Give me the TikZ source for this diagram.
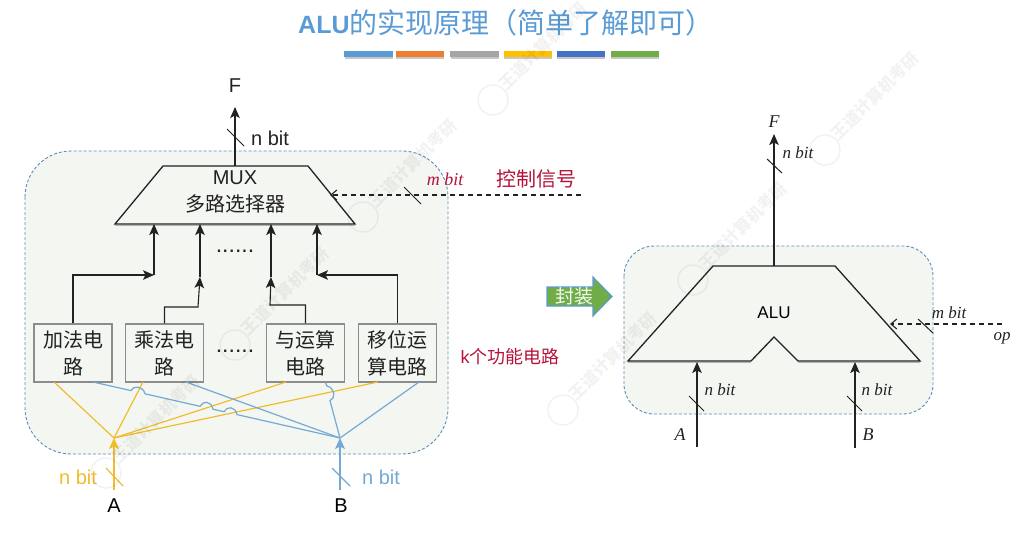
\documentclass[tikz,border=0pt]{standalone}
\usepackage{fontspec}
\setmainfont{Liberation Sans}
\newfontfamily\cjk{Noto Sans CJK SC}
\newfontfamily\tms{Liberation Serif}
\usetikzlibrary{arrows.meta}
\definecolor{pane}{HTML}{F4F7F1}
\definecolor{paneline}{HTML}{5B8DB8}
\definecolor{wirey}{HTML}{F0BC2C}
\definecolor{wireb}{HTML}{74A9D3}
\definecolor{redtxt}{HTML}{B5123A}
\definecolor{ink}{HTML}{222222}
\definecolor{titleblue}{HTML}{5B9BD5}
\definecolor{pkggreen}{HTML}{70AD47}
\tikzset{
  panebox/.style={draw=paneline,fill=pane,densely dashed,line width=.9pt},
  wire/.style={draw=ink,line width=1.1pt},
  arrowwire/.style={wire,-{Stealth[length=11pt,width=9.5pt,inset=2.5pt]}},
  ctrlwire/.style={draw=ink,line width=1.1pt,dash pattern=on 5.5pt off 3.5pt,-{Straight Barb[length=6pt,width=10pt]}},
  slashmark/.style={draw=ink,line width=1pt},
  shapeline/.style={draw=ink,fill=pane,line width=1.3pt,line join=miter},
  funcbox/.style={draw=black!45,line width=1.1pt,fill=pane,minimum width=78pt,minimum height=58pt,inner sep=0pt,align=center,text=ink,font=\cjk\fontsize{20}{27}\selectfont},
  lab/.style={inner sep=0pt,text=ink,font=\fontsize{20}{22}\selectfont},
  serifit/.style={inner sep=0pt,text=ink,font=\tms\itshape\fontsize{17}{19}\selectfont},
  dotstyle/.style={inner sep=0pt,text=ink,font=\fontsize{23}{25}\selectfont},
  bar/.style={inner sep=0pt,minimum height=6pt,minimum width=48.5pt},
  yarrow/.style={draw=wirey,line width=1.3pt,-{Stealth[length=11pt,width=10pt,inset=2.5pt]}},
  barrow/.style={draw=wireb,line width=1.3pt,-{Stealth[length=11pt,width=10pt,inset=2.5pt]}},
  ywire/.style={draw=wirey,line width=1.2pt},
  bwire/.style={draw=wireb,line width=1.2pt},
}
\begin{document}
\begin{tikzpicture}[x=1pt,y=-1pt]
\useasboundingbox (0,0) rectangle (1024,533);
% title
\node[inner sep=0pt,anchor=west,text=titleblue] (title) at (298,23) {\fontsize{25}{30}\selectfont\textbf{ALU}\cjk\fontsize{28}{30}\selectfont 的实现原理（简单了解即可）};
\foreach \n/\xx/\cc in {a/368.5/5B9BD5,b/420/ED7D31,c/474.5/A5A5A5,d/528/FFC000,e/581/4472C4,f/635/70AD47}{
  \definecolor{barc}{HTML}{\cc}
  \fill[black!22] (\xx-24,53) rectangle (\xx+24,59);
  \node[bar,fill=barc] (bar\n) at (\xx,54) {};
}
% left pane
\draw[panebox,rounded corners=46pt] (25,151) rectangle (448,454);
% MUX
\coordinate (mtl) at (163,166);\coordinate (mtr) at (308,166);
\coordinate (mbr) at (355,224);\coordinate (mbl) at (115,224);
\draw[black!30,line width=1.4pt] (115,225.5) -- (355,225.5);
\draw[shapeline] (mtl) -- (mtr) -- (mbr) -- (mbl) -- cycle;
\node[lab] (muxa) at (235,178) {MUX};
\node[lab,font=\cjk\fontsize{20}{22}\selectfont] (muxb) at (235,204) {多路选择器};
% output
\coordinate (muxout) at (235,166);
\coordinate (fout) at (235,107);
\draw[arrowwire] (muxout) -- (fout);
\node[lab] (flabel) at (235,86) {F};
\coordinate (s1a) at (227,129);\coordinate (s1b) at (244,146);
\draw[slashmark] (s1a) -- (s1b);
\node[lab] (nbit1) at (270,138) {n bit};
% control
\coordinate (ctrlfree) at (581,195);\coordinate (ctrlend) at (330,195);
\draw[ctrlwire] (ctrlfree) -- (ctrlend);
\coordinate (s2a) at (404,187);\coordinate (s2b) at (421,204);
\draw[slashmark] (s2a) -- (s2b);
\node[inner sep=0pt,text=redtxt,font=\tms\itshape\fontsize{18}{20}\selectfont] (mbit) at (445,179) {m bit};
\node[inner sep=0pt,text=redtxt,font=\cjk\fontsize{20}{22}\selectfont] (ctrltxt) at (536,179) {控制信号};
% function boxes
\node[funcbox] (add) at (73,353) {加法电\\路};
\node[funcbox] (mul) at (164.5,353) {乘法电\\路};
\node[funcbox] (andb) at (305.5,353) {与运算\\电路};
\node[funcbox] (shift) at (397.5,353) {移位运\\算电路};
\node[dotstyle] (dots1) at (235,351) {......};
\node[dotstyle] (dots2) at (235,251) {......};
\node[inner sep=0pt,text=redtxt,font=\fontsize{18}{20}\selectfont] (ktxt) at (510,357) {k\cjk 个功能电路};
% vertical into MUX
\coordinate (i1) at (154,224);\coordinate (i2) at (200,224);\coordinate (i3) at (271,224);\coordinate (i4) at (317,224);
\coordinate (j1) at (154,275);\coordinate (j2) at (200,277);\coordinate (j3) at (271,277);\coordinate (j4) at (317,275);
\draw[arrowwire] (j1) -- (i1);
\draw[arrowwire] (j2) -- (i2);
\draw[arrowwire] (j3) -- (i3);
\draw[arrowwire] (j4) -- (i4);
\draw[arrowwire] (add.north) -- (73,275) -- (j1);
\draw[arrowwire] (shift.north) -- (397.5,275) -- (j4);
\draw[arrowwire] (mul.north) -- (164.5,307) -- (198,307) -- (j2);
\draw[arrowwire] (andb.north) -- (305.5,305) -- (270,305) -- (j3);
% A and B junctions
\coordinate (ja) at (114,438);\coordinate (jb) at (340,438);
\coordinate (ain) at (114,490);\coordinate (bin) at (340,490);
\draw[ywire] (54,382) -- (ja);
\draw[ywire] (143,382) -- (ja);
\draw[ywire] (286,382) -- (ja);
\draw[ywire] (378,382) -- (ja);
\draw[bwire] (93,382) -- (131,390.6) .. controls (133,385.5) and (143,385.5) .. (145,393.8)
  -- (200,406.3) .. controls (203,400.5) and (211,400.5) .. (213,409.2)
  -- (224,411.7) .. controls (227,406) and (235,406) .. (237,414.6) -- (jb);
\draw[bwire] (186,382) -- (jb);
\draw[bwire] (325,382) -- (327,386) .. controls (335,388) and (336,398) .. (330,400.7) -- (jb);
\draw[bwire] (419,382) -- (jb);
\draw[yarrow] (ain) -- (ja);
\draw[barrow] (bin) -- (jb);
\coordinate (s3a) at (106,468);\coordinate (s3b) at (123,486);
\draw[ywire] (s3a) -- (s3b);
\coordinate (s4a) at (332,468);\coordinate (s4b) at (350,486);
\draw[bwire] (s4a) -- (s4b);
\node[lab,text=wirey] (nbita) at (78,477) {n bit};
\node[lab,text=wireb] (nbitb) at (381,477) {n bit};
\node[lab,text=black] (alab) at (114,506) {A};
\node[lab,text=black] (blab) at (341,506) {B};
% package arrow
\draw[draw=titleblue,fill=pkggreen,line width=1.1pt] (547,287) -- (593,287) -- (593,277) -- (612,296.5) -- (593,316) -- (593,306) -- (547,306) -- cycle;
\node[inner sep=0pt,text=pane,font=\cjk\fontsize{19}{21}\selectfont] (pkg) at (574,296) {封装};
% right pane
\draw[panebox,rounded corners=30pt] (624,246) rectangle (933,414);
\coordinate (atl) at (713,266);\coordinate (atr) at (835,266);
\coordinate (abr) at (920,361);\coordinate (anr) at (798,361);
\coordinate (ant) at (774,337);\coordinate (anl) at (751,361);\coordinate (abl) at (628,361);
\draw[black!30,line width=1.4pt] (628,362.5) -- (751,362.5) (798,362.5) -- (920,362.5);
\draw[shapeline] (atl) -- (atr) -- (abr) -- (anr) -- (ant) -- (anl) -- (abl) -- cycle;
\node[inner sep=0pt,text=black,font=\fontsize{17}{19}\selectfont] (alu) at (774,313) {ALU};
\coordinate (aluout) at (774,266);\coordinate (rf) at (774,134);
\draw[arrowwire] (aluout) -- (rf);
\node[serifit,font=\tms\itshape\fontsize{18}{19}\selectfont] (rflab) at (774,122) {F};
\coordinate (s5a) at (767,159);\coordinate (s5b) at (782,173);
\draw[slashmark] (s5a) -- (s5b);
\node[serifit] (rn1) at (798,153) {n bit};
\coordinate (opfree) at (1002,324);\coordinate (opend) at (890,324);
\draw[ctrlwire] (opfree) -- (opend);
\coordinate (s6a) at (918,319);\coordinate (s6b) at (933,333);
\draw[slashmark] (s6a) -- (s6b);
\node[serifit] (rm) at (949,313) {m bit};
\node[serifit] (rop) at (1002,338) {op};
\coordinate (ra) at (697,447);\coordinate (rae) at (697,362);
\coordinate (rb) at (855,448);\coordinate (rbe) at (855,362);
\draw[arrowwire] (ra) -- (rae);
\draw[arrowwire] (rb) -- (rbe);
\coordinate (s7a) at (689,396);\coordinate (s7b) at (704,411);
\draw[slashmark] (s7a) -- (s7b);
\coordinate (s8a) at (847,396);\coordinate (s8b) at (862,411);
\draw[slashmark] (s8a) -- (s8b);
\node[serifit] (rn2) at (720,390) {n bit};
\node[serifit] (rn3) at (877,390) {n bit};
\node[serifit,font=\tms\itshape\fontsize{18}{19}\selectfont] (ralab) at (680,435) {A};
\node[serifit,font=\tms\itshape\fontsize{18}{19}\selectfont] (rblab) at (868,435) {B};
% watermark
\foreach \i/\wx/\wy in {1/493/100,2/363/217,3/235/345,4/106/473,5/825/150,6/693/280,7/563/410}{
  \begin{scope}[opacity=.05]
  \node[draw=black,circle,line width=1.5pt,minimum size=30pt,inner sep=0pt] (wc\i) at (\wx,\wy) {};
  \node[inner sep=0pt,rotate=45,font=\cjk\bfseries\fontsize{16.5}{18}\selectfont] (wt\i) at (\wx+50,\wy-54) {王道计算机考研};
  \end{scope}
}
\end{tikzpicture}
\end{document}
